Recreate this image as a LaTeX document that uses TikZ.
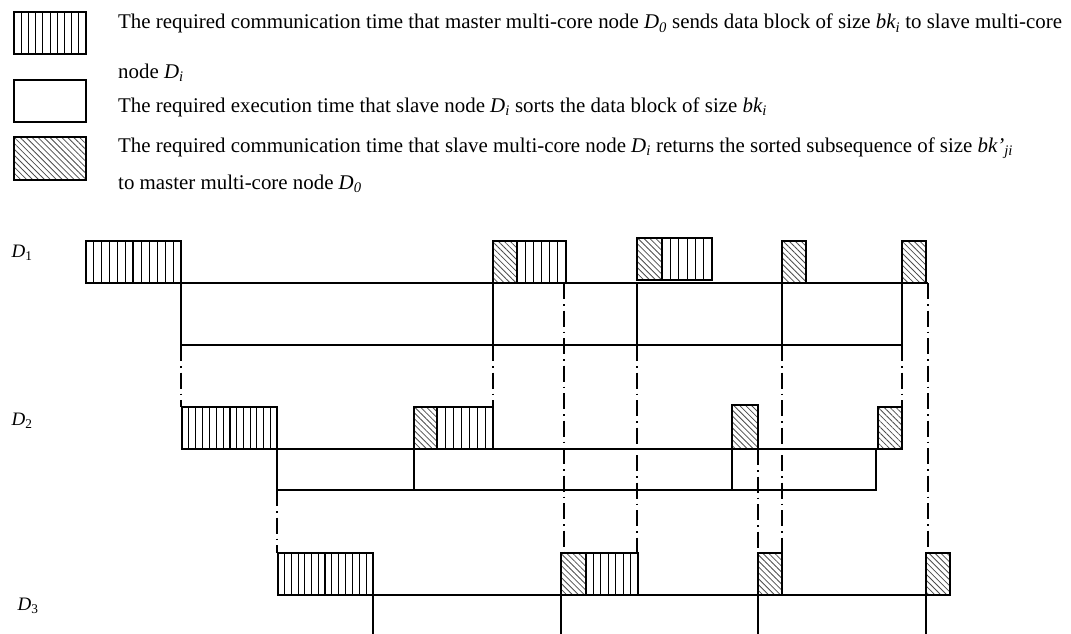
\documentclass[tikz,border=0pt]{standalone}
\usepackage{fontspec}
\setmainfont{Liberation Serif}
\usetikzlibrary{patterns.meta,positioning}

\tikzset{
  blk/.style={draw,line width=1.3pt},
  retblk/.style={blk,pattern={Lines[angle=-45,distance=4.2pt,line width=0.8pt]},pattern color=black!70},
  tline/.style={line width=1.3pt},
  guide/.style={line width=1.2pt,dash pattern=on 16pt off 5pt on 1.5pt off 5pt},
  lbl/.style={anchor=base west,inner sep=0pt,font=\fontsize{20.9}{24}\selectfont},
  rowlbl/.style={inner sep=0pt,font=\fontsize{19}{22}\selectfont}
}

% striped send block from x #1 to #2, top #3, bottom #4, with #5 inner stripes
\newcommand{\sendblk}[5]{%
  \draw[blk] (#1,#3) rectangle (#2,#4);
  \foreach \k in {1,...,#5}
    \draw[line width=0.9pt] ({#1+\k*(#2-#1)/(#5+1)},#3) -- ({#1+\k*(#2-#1)/(#5+1)},#4);
}

\begin{document}
\begin{tikzpicture}[x=1pt,y=-1pt]
\useasboundingbox (0,0) rectangle (1071,634);

% legend
\sendblk{14}{86}{12}{54}{9}
\draw[blk] (14,80) rectangle (86,122);
\draw[retblk] (14,137) rectangle (86,180);
\node[lbl] (t1) at (118,29) {The required communication time that master multi-core node \textit{D\textsubscript{0}} sends data block of size \textit{bk\textsubscript{i}} to slave multi-core};
\node[lbl] (t1b) at (118,78) {node \textit{D\textsubscript{i}}};
\node[lbl] (t2) at (118,112) {The required execution time that slave node \textit{D\textsubscript{i}} sorts the data block of size \textit{bk\textsubscript{i}}};
\node[lbl] (t3) at (118,152) {The required communication time that slave multi-core node \textit{D\textsubscript{i}} returns the sorted subsequence of size \textit{bk’\textsubscript{ji}}};
\node[lbl] (t3b) at (118,189) {to master multi-core node \textit{D\textsubscript{0}}};

% row labels
\node[rowlbl] (d1) at (22,253) {\textit{D}\textsubscript{1}};
\node[rowlbl] (d2) at (22,421) {\textit{D}\textsubscript{2}};
\node[rowlbl] (d3) at (28,606) {\textit{D}\textsubscript{3}};

% D1
\sendblk{86}{133}{241}{283}{5}
\sendblk{133}{181}{241}{283}{5}
\draw[retblk] (493,241) rectangle (517,283);
\sendblk{517}{566}{241}{283}{5}
\draw[retblk] (637,238) rectangle (662,280);
\sendblk{662}{712}{238}{280}{5}
\draw[retblk] (782,241) rectangle (806,283);
\draw[retblk] (902,241) rectangle (926,283);
\draw[tline] (86,283) -- (928,283);
\draw[tline] (181,283) -- (181,345) -- (902,345) -- (902,283);
\foreach \x in {493,637,782}
  \draw[tline] (\x,283) -- (\x,345);

% D2
\sendblk{182}{230}{407}{449}{6}
\sendblk{230}{277}{407}{449}{6}
\draw[retblk] (414,407) rectangle (437,449);
\sendblk{437}{493}{407}{449}{6}
\draw[retblk] (732,405) rectangle (758,449);
\draw[retblk] (878,407) rectangle (902,449);
\draw[tline] (182,449) -- (902,449);
\draw[tline] (277,449) -- (277,490) -- (876,490) -- (876,449);
\foreach \x in {414,732}
  \draw[tline] (\x,449) -- (\x,490);

% D3
\sendblk{278}{325}{553}{595}{6}
\sendblk{325}{373}{553}{595}{6}
\draw[retblk] (561,553) rectangle (586,595);
\sendblk{586}{638}{553}{595}{6}
\draw[retblk] (758,553) rectangle (782,595);
\draw[retblk] (926,553) rectangle (950,595);
\draw[tline] (278,595) -- (950,595);
\foreach \x in {373,561,758,926}
  \draw[tline] (\x,595) -- (\x,634);

% guide lines between the rows
\draw[guide] (181,345) -- (181,407);
\draw[guide] (493,345) -- (493,407);
\draw[guide] (902,345) -- (902,407);
\draw[guide] (564,283) -- (564,553);
\draw[guide] (637,345) -- (637,553);
\draw[guide] (782,345) -- (782,553);
\draw[guide] (928,283) -- (928,553);
\draw[guide] (277,490) -- (277,553);
\draw[guide] (758,449) -- (758,553);
\end{tikzpicture}
\end{document}
